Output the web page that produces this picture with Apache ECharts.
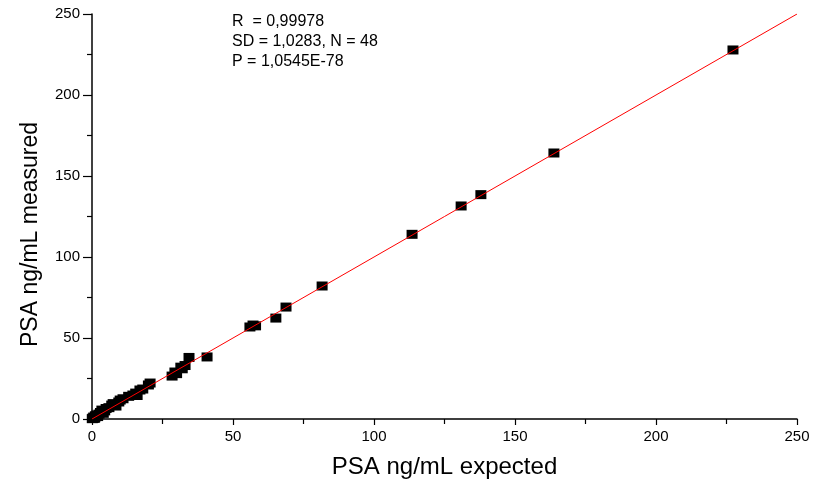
<!DOCTYPE html>
<html>
<head>
<meta charset="utf-8">
<script src="https://cdn.jsdelivr.net/npm/echarts@6/dist/echarts.min.js"></script>
<style>
html,body{margin:0;padding:0;background:#fff;}
#c{width:814px;height:488px;}
</style>
</head>
<body>
<div id="c"></div>
<script>
const expected = [0.1,0.3,0.6,0.8,1,1.2,1.8,2,2.5,3,3.5,4,4.5,5,6,7,7.5,8.5,9.5,10,11,13,14.5,15.5,16,17,18,20,20.6,28.4,29.4,30,31.5,32,33,34.4,40.8,56,57.1,58,65.2,68.8,81.6,113.5,130.9,137.9,163.8,227.3];
const measured = [0.2,0.5,1.2,0.4,0.8,2,2.5,1.5,3,4,5.5,3.5,5,6.5,7,8.6,9.5,8,10.5,11.7,12.5,14,14.8,16,14.5,17.9,18.5,21,22.2,26.5,29,28,32,31,33,38,38.3,56.8,58,57.5,62.3,69.1,82.1,114,131.5,138.5,164.2,227.8];
const fitLine = [[0,0],[250,250]];
const axisTicks = [0,50,100,150,200,250];
const statsText = ['R  = 0,99978','SD = 1,0283, N = 48','P = 1,0545E-78'];

const points = expected.map((x,i)=>[x,measured[i]]);
const chart = echarts.init(document.getElementById('c'), null, {renderer:'canvas'});
const font = 'Liberation Sans, Arial, sans-serif';
chart.setOption({
  animation:false,
  backgroundColor:'#fff',
  grid:{left:92,right:17,top:14,bottom:69},
  xAxis:{
    type:'value',min:axisTicks[0],max:axisTicks[axisTicks.length-1],interval:50,
    name:'PSA ng/mL expected',nameLocation:'middle',nameGap:36,
    nameTextStyle:{fontFamily:font,fontSize:24,color:'#000'},
    axisLine:{onZero:false,lineStyle:{color:'#000',width:1.5}},
    axisTick:{length:6,lineStyle:{color:'#000',width:1.2}},
    minorTick:{show:true,splitNumber:2,length:5,lineStyle:{color:'#000',width:1.2}},
    axisLabel:{fontFamily:font,fontSize:15,color:'#000',margin:10},
    splitLine:{show:false}
  },
  yAxis:{
    type:'value',min:axisTicks[0],max:axisTicks[axisTicks.length-1],interval:50,
    name:'PSA ng/mL measured',nameLocation:'middle',nameGap:50,
    nameTextStyle:{fontFamily:font,fontSize:23,color:'#000',padding:[0,36,0,0]},
    axisLine:{show:true,onZero:false,lineStyle:{color:'#000',width:1.5}},
    axisTick:{show:true,length:9,lineStyle:{color:'#000',width:1.2}},
    minorTick:{show:true,splitNumber:2,length:5,lineStyle:{color:'#000',width:1.2}},
    axisLabel:{fontFamily:font,fontSize:15,color:'#000',margin:12},
    splitLine:{show:false}
  },
  graphic:statsText.map((t,i)=>({
    type:'text',left:232,top:14+i*20,
    style:{text:t,fontFamily:font,fontSize:16,fill:'#000'}
  })),
  series:[
    {type:'line',data:fitLine,symbol:'none',lineStyle:{color:'#ff0000',width:1},z:3,silent:true},
    {type:'scatter',data:points,symbol:'rect',symbolSize:[11,9],itemStyle:{color:'#000',opacity:1},z:2}
  ]
});
</script>
</body>
</html>
